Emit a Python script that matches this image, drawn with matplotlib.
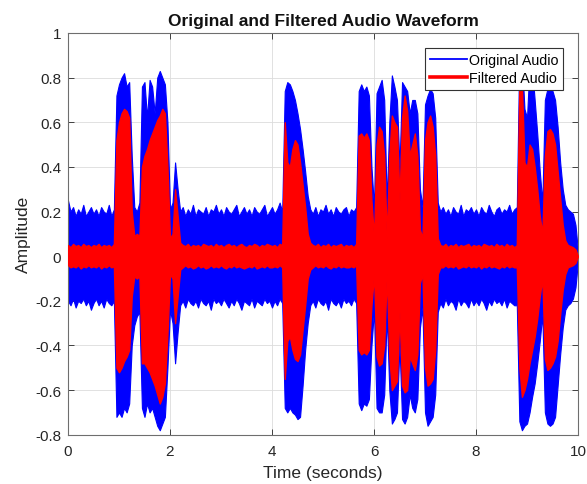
import numpy as np
import matplotlib
matplotlib.use('Agg')
import matplotlib.pyplot as plt
from matplotlib.lines import Line2D

# sample grid of the envelopes, every 0.05 s from 0 to 10 s
t_env = np.linspace(0, 10, 201)

# upper / lower envelope of the original audio
orig_hi = [0.25, 0.20, 0.22, 0.18, 0.21, 0.19, 0.23, 0.18, 0.20, 0.22,
           0.19, 0.21, 0.18, 0.22, 0.20, 0.19, 0.23, 0.18, 0.21, 0.72,
           0.77, 0.80, 0.82, 0.76, 0.78, 0.45, 0.22, 0.20, 0.24, 0.76,
           0.78, 0.62, 0.79, 0.76, 0.64, 0.80, 0.83, 0.80, 0.77, 0.60,
           0.21, 0.24, 0.42, 0.30, 0.20, 0.22, 0.18, 0.21, 0.19, 0.23,
           0.18, 0.21, 0.20, 0.19, 0.22, 0.18, 0.21, 0.20, 0.23, 0.19,
           0.21, 0.18, 0.22, 0.20, 0.19, 0.21, 0.23, 0.18, 0.20, 0.22,
           0.19, 0.21, 0.18, 0.22, 0.20, 0.19, 0.21, 0.23, 0.18, 0.20,
           0.22, 0.19, 0.21, 0.24, 0.20, 0.74, 0.78, 0.77, 0.74, 0.70,
           0.64, 0.57, 0.48, 0.38, 0.27, 0.21, 0.19, 0.22, 0.18, 0.21,
           0.20, 0.23, 0.19, 0.21, 0.18, 0.22, 0.20, 0.19, 0.21, 0.22,
           0.18, 0.21, 0.20, 0.22, 0.74, 0.77, 0.74, 0.76, 0.72, 0.40,
           0.22, 0.73, 0.76, 0.79, 0.70, 0.24, 0.60, 0.81, 0.76, 0.70,
           0.40, 0.78, 0.76, 0.74, 0.64, 0.70, 0.70, 0.64, 0.30, 0.22,
           0.68, 0.72, 0.75, 0.73, 0.62, 0.24, 0.20, 0.22, 0.19, 0.21,
           0.18, 0.22, 0.20, 0.19, 0.23, 0.18, 0.21, 0.20, 0.22, 0.19,
           0.21, 0.18, 0.22, 0.20, 0.19, 0.23, 0.20, 0.18, 0.21, 0.22,
           0.19, 0.21, 0.20, 0.23, 0.19, 0.21, 0.22, 0.92, 0.88, 0.66,
           0.62, 0.86, 0.84, 0.70, 0.55, 0.38, 0.24, 0.70, 0.75, 0.76,
           0.74, 0.70, 0.58, 0.42, 0.30, 0.23, 0.21, 0.20, 0.19, 0.14,
           0.02]
orig_lo = [-0.20, -0.22, -0.19, -0.23, -0.20, -0.21, -0.19, -0.22, -0.20, -0.24,
           -0.21, -0.19, -0.22, -0.20, -0.23, -0.19, -0.21, -0.22, -0.20, -0.72,
           -0.70, -0.72, -0.68, -0.70, -0.66, -0.40, -0.31, -0.27, -0.25, -0.68,
           -0.72, -0.66, -0.70, -0.68, -0.72, -0.76, -0.78, -0.75, -0.72, -0.50,
           -0.24, -0.30, -0.48, -0.34, -0.22, -0.20, -0.23, -0.19, -0.21, -0.22,
           -0.20, -0.23, -0.19, -0.21, -0.22, -0.20, -0.24, -0.19, -0.21, -0.20,
           -0.22, -0.19, -0.21, -0.23, -0.20, -0.22, -0.19, -0.21, -0.24, -0.20,
           -0.21, -0.22, -0.19, -0.23, -0.20, -0.21, -0.22, -0.19, -0.21, -0.20,
           -0.23, -0.20, -0.22, -0.19, -0.21, -0.68, -0.70, -0.68, -0.70, -0.71,
           -0.73, -0.72, -0.58, -0.42, -0.30, -0.22, -0.20, -0.23, -0.19, -0.21,
           -0.22, -0.20, -0.24, -0.19, -0.21, -0.22, -0.20, -0.23, -0.19, -0.21,
           -0.20, -0.22, -0.19, -0.21, -0.66, -0.69, -0.66, -0.67, -0.64, -0.40,
           -0.24, -0.68, -0.70, -0.70, -0.62, -0.26, -0.60, -0.75, -0.73, -0.70,
           -0.40, -0.73, -0.75, -0.72, -0.62, -0.68, -0.70, -0.64, -0.32, -0.23,
           -0.70, -0.76, -0.74, -0.72, -0.62, -0.25, -0.21, -0.23, -0.19, -0.22,
           -0.20, -0.21, -0.24, -0.19, -0.22, -0.20, -0.21, -0.23, -0.19, -0.22,
           -0.20, -0.22, -0.19, -0.21, -0.24, -0.20, -0.22, -0.19, -0.21, -0.20,
           -0.22, -0.19, -0.23, -0.20, -0.21, -0.22, -0.22, -0.74, -0.78, -0.76,
           -0.75, -0.70, -0.63, -0.57, -0.48, -0.38, -0.26, -0.70, -0.75, -0.76,
           -0.75, -0.72, -0.58, -0.44, -0.32, -0.24, -0.22, -0.21, -0.19, -0.14,
           -0.02]

# upper / lower envelope of the filtered audio
filt_hi = [0.05, 0.04, 0.055, 0.045, 0.05, 0.04, 0.055, 0.045, 0.05, 0.04,
           0.05, 0.045, 0.055, 0.04, 0.05, 0.045, 0.05, 0.04, 0.055, 0.52,
           0.60, 0.64, 0.66, 0.65, 0.62, 0.20, 0.09, 0.10, 0.09, 0.40,
           0.45, 0.48, 0.52, 0.55, 0.58, 0.61, 0.63, 0.66, 0.64, 0.40,
           0.08, 0.10, 0.30, 0.18, 0.06, 0.05, 0.045, 0.055, 0.04, 0.05,
           0.045, 0.05, 0.04, 0.055, 0.05, 0.045, 0.05, 0.04, 0.055, 0.045,
           0.05, 0.04, 0.05, 0.055, 0.045, 0.05, 0.04, 0.05, 0.055, 0.045,
           0.04, 0.05, 0.045, 0.055, 0.05, 0.04, 0.05, 0.045, 0.055, 0.05,
           0.045, 0.05, 0.04, 0.055, 0.05, 0.60, 0.42, 0.40, 0.48, 0.52,
           0.50, 0.42, 0.32, 0.22, 0.10, 0.06, 0.05, 0.045, 0.055, 0.04,
           0.05, 0.045, 0.055, 0.04, 0.05, 0.045, 0.05, 0.055, 0.04, 0.05,
           0.045, 0.05, 0.04, 0.055, 0.54, 0.55, 0.53, 0.55, 0.52, 0.25,
           0.08, 0.50, 0.58, 0.56, 0.45, 0.08, 0.45, 0.63, 0.60, 0.58,
           0.25, 0.62, 0.72, 0.65, 0.45, 0.50, 0.55, 0.45, 0.12, 0.08,
           0.52, 0.60, 0.63, 0.58, 0.45, 0.08, 0.05, 0.045, 0.055, 0.04,
           0.05, 0.045, 0.055, 0.04, 0.05, 0.045, 0.05, 0.055, 0.04, 0.05,
           0.045, 0.05, 0.04, 0.055, 0.05, 0.045, 0.05, 0.04, 0.055, 0.045,
           0.05, 0.04, 0.055, 0.045, 0.05, 0.04, 0.05, 0.76, 0.76, 0.42,
           0.40, 0.50, 0.48, 0.40, 0.30, 0.18, 0.10, 0.45, 0.56, 0.57,
           0.55, 0.50, 0.38, 0.26, 0.14, 0.07, 0.05, 0.045, 0.04, 0.03,
           0.0]
filt_lo = [-0.04, -0.05, -0.045, -0.05, -0.04, -0.055, -0.045, -0.05, -0.04, -0.05,
           -0.045, -0.05, -0.04, -0.055, -0.045, -0.05, -0.04, -0.05, -0.045, -0.50,
           -0.52, -0.50, -0.47, -0.45, -0.42, -0.18, -0.09, -0.10, -0.09, -0.48,
           -0.48, -0.50, -0.52, -0.55, -0.58, -0.62, -0.66, -0.63, -0.57, -0.35,
           -0.08, -0.10, -0.30, -0.18, -0.06, -0.05, -0.04, -0.05, -0.045, -0.055,
           -0.05, -0.04, -0.05, -0.045, -0.055, -0.05, -0.04, -0.05, -0.045, -0.05,
           -0.04, -0.05, -0.055, -0.045, -0.05, -0.04, -0.05, -0.045, -0.05, -0.055,
           -0.05, -0.045, -0.05, -0.04, -0.055, -0.05, -0.045, -0.05, -0.04, -0.05,
           -0.05, -0.045, -0.05, -0.04, -0.05, -0.55, -0.38, -0.36, -0.42, -0.46,
           -0.47, -0.44, -0.33, -0.22, -0.10, -0.06, -0.05, -0.04, -0.05, -0.045,
           -0.05, -0.04, -0.05, -0.055, -0.045, -0.05, -0.04, -0.05, -0.045, -0.05,
           -0.05, -0.045, -0.05, -0.04, -0.42, -0.44, -0.43, -0.44, -0.42, -0.22,
           -0.08, -0.45, -0.49, -0.48, -0.40, -0.08, -0.45, -0.60, -0.58, -0.56,
           -0.25, -0.58, -0.61, -0.60, -0.45, -0.48, -0.51, -0.44, -0.12, -0.08,
           -0.50, -0.58, -0.57, -0.55, -0.42, -0.08, -0.05, -0.05, -0.04, -0.05,
           -0.045, -0.05, -0.04, -0.055, -0.05, -0.045, -0.05, -0.04, -0.05, -0.045,
           -0.05, -0.04, -0.055, -0.045, -0.05, -0.04, -0.05, -0.045, -0.05, -0.055,
           -0.045, -0.05, -0.04, -0.05, -0.045, -0.05, -0.05, -0.50, -0.63, -0.60,
           -0.55, -0.48, -0.42, -0.36, -0.28, -0.18, -0.10, -0.46, -0.51, -0.50,
           -0.48, -0.45, -0.38, -0.26, -0.15, -0.08, -0.05, -0.045, -0.04, -0.03,
           0.0]

x_ticks = [0, 2, 4, 6, 8, 10]
y_ticks = [-0.8, -0.6, -0.4, -0.2, 0, 0.2, 0.4, 0.6, 0.8, 1]
y_labels = ['-0.8', '-0.6', '-0.4', '-0.2', '0', '0.2', '0.4', '0.6', '0.8', '1']

plt.rcParams['font.family'] = ['Liberation Sans', 'DejaVu Sans']

fig = plt.figure(figsize=(5.87, 4.85), dpi=100)
ax = fig.add_axes([0.1158, 0.1016, 0.8689, 0.8283])

ax.fill_between(t_env, orig_lo, orig_hi, color='#0000ff', lw=0.8, zorder=2)
ax.fill_between(t_env, filt_lo, filt_hi, color='#ff0000', lw=1.0, zorder=3)

ax.set_xlim(0, 10)
ax.set_ylim(-0.8, 1)
ax.set_xticks(x_ticks)
ax.set_yticks(y_ticks)
ax.set_yticklabels(y_labels)
ax.grid(True, color='#dcdcdc', lw=0.6)
ax.set_axisbelow(True)
ax.tick_params(direction='in', length=4, width=0.6, labelsize=11,
               colors='#262626', top=True, right=True)
ax.tick_params(axis='x', pad=7)
ax.tick_params(axis='y', pad=5)
for s in ax.spines.values():
    s.set_color('#6e6e6e')
    s.set_linewidth(0.8)

ax.set_xlabel('Time (seconds)', fontsize=12.5, color='#262626', labelpad=5)
ax.set_ylabel('Amplitude', fontsize=12.5, color='#262626', labelpad=3)
ax.set_title('Original and Filtered Audio Waveform', fontsize=12.5,
             fontweight='bold', color='#111111', pad=6)

handles = [Line2D([], [], color='#0000ff', lw=1.3),
           Line2D([], [], color='#ff0000', lw=2.6)]
leg = ax.legend(handles, ['Original Audio', 'Filtered Audio'],
                loc='upper right', bbox_to_anchor=(0.9706, 0.962),
                fontsize=10.3, frameon=True, fancybox=False, framealpha=1,
                edgecolor='#333333', handlelength=2.6, handletextpad=0.1,
                borderpad=0.35, labelspacing=0.25, borderaxespad=0)
leg.get_frame().set_linewidth(0.8)
leg.set_zorder(5)

fig.savefig('out.png', dpi=100)
